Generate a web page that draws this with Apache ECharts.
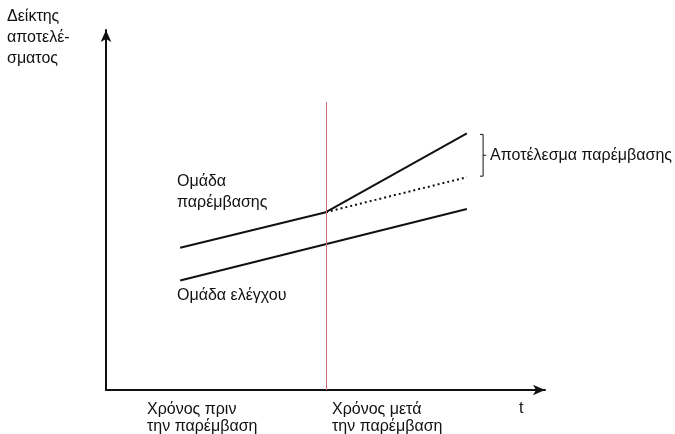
<!DOCTYPE html>
<html>
<head>
<meta charset="utf-8">
<script src="https://cdn.jsdelivr.net/npm/echarts@6/dist/echarts.min.js"></script>
<style>
  html, body { margin: 0; padding: 0; background: #fff; }
  #main { width: 675px; height: 434px; }
</style>
</head>
<body>
<div id="main"></div>
<script>
// time runs 0..100 along the x axis, outcome 0..100 up the y axis
const interventionPre = [[16.9, 39.5], [50.1, 49.4]];
const interventionPost = [[50.1, 49.4], [82.2, 71.3]];
const counterfactual = [[50.1, 49.4], [82.2, 59.1]];
const controlGroup = [[16.9, 30.4], [82.2, 50.3]];
const interventionTime = 50.1;
const bracket = [[85.2, 71.0], [85.9, 71.0], [85.9, 59.4], [85.2, 59.4]];
const bracketTick = [[85.9, 65.2], [86.6, 65.2]];

const font = "16px Liberation Sans, Arial, sans-serif";
const black = "#111";

function lineSeries(data, type) {
  return {
    type: "line",
    data: data,
    symbol: "none",
    silent: true,
    lineStyle: { color: black, width: 2, type: type || "solid" },
  };
}

const chart = echarts.init(document.getElementById("main"));
chart.setOption({
  animation: false,
  grid: { left: 106, right: 130, top: 30, bottom: 44 },
  xAxis: {
    type: "value",
    min: 0,
    max: 100,
    splitLine: { show: false },
    axisTick: { show: false },
    axisLabel: { show: false },
    axisLine: {
      lineStyle: { color: black, width: 2 },
      symbol: ["none", "arrow"],
      symbolSize: [8, 12],
    },
  },
  yAxis: {
    type: "value",
    min: 0,
    max: 100,
    splitLine: { show: false },
    axisTick: { show: false },
    axisLabel: { show: false },
    axisLine: {
      lineStyle: { color: black, width: 2 },
      symbol: ["none", "arrow"],
      symbolSize: [8, 12],
    },
  },
  series: [
    Object.assign(lineSeries(interventionPre), {
      markLine: {
        silent: true,
        symbol: "none",
        label: { show: false },
        lineStyle: { color: "#c9707e", width: 1, type: "solid" },
        data: [[{ coord: [interventionTime, 0] }, { coord: [interventionTime, 80] }]],
      },
    }),
    lineSeries(interventionPost),
    lineSeries(counterfactual, [2, 3]),
    lineSeries(controlGroup),
    Object.assign(lineSeries(bracket), { lineStyle: { color: black, width: 1 } }),
    Object.assign(lineSeries(bracketTick), { lineStyle: { color: black, width: 1 } }),
  ],
  graphic: [
    { type: "text", left: 7, top: 6, style: { text: "Δείκτης\nαποτελέ-\nσματος", font: font, lineHeight: 21, fill: black } },
    { type: "text", left: 177, top: 171, style: { text: "Ομάδα\nπαρέμβασης", font: font, lineHeight: 21, fill: black } },
    { type: "text", left: 177, top: 288, style: { text: "Ομάδα ελέγχου", font: font, fill: black } },
    { type: "text", left: 490, top: 148, style: { text: "Αποτέλεσμα παρέμβασης", font: font, fill: black } },
    { type: "text", left: 147, top: 401, style: { text: "Χρόνος πριν\nτην παρέμβαση", font: font, lineHeight: 17, fill: black } },
    { type: "text", left: 332, top: 401, style: { text: "Χρόνος μετά\nτην παρέμβαση", font: font, lineHeight: 17, fill: black } },
    { type: "text", left: 519, top: 401, style: { text: "t", font: font, fill: black } },
  ],
});
</script>
</body>
</html>
